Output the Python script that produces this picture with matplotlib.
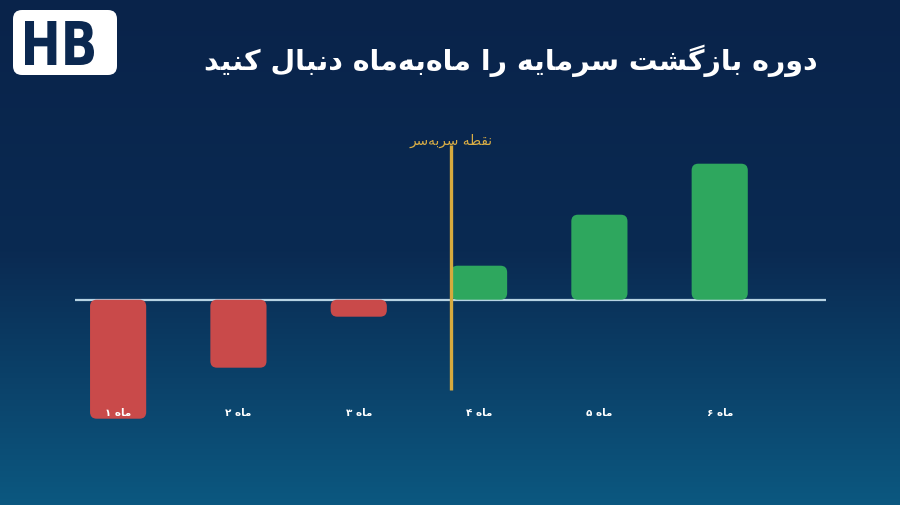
import numpy as np
import matplotlib
matplotlib.use("Agg")
import matplotlib.pyplot as plt
from matplotlib.patches import FancyBboxPatch, PathPatch
from matplotlib.textpath import TextPath
from matplotlib.font_manager import FontProperties
from matplotlib.colors import LinearSegmentedColormap
import matplotlib.transforms as mtransforms

# ---------------- data ----------------
months = ["ماه ۱", "ماه ۲", "ماه ۳", "ماه ۴", "ماه ۵", "ماه ۶"]
cumulative = [-35, -20, -5, 10, 25, 40]
breakeven_index = 3
title = "دوره بازگشت سرما\u06ccه را ماه\u200cبه\u200cماه دنبال \u06a9ن\u06ccد"
breakeven_label = "نقطه سربه\u200cسر"
logo_text = "HB"

# ---------------- minimal Arabic/Persian shaping ----------------
FORMS = {
    '\u0627': ('\uFE8D', '\uFE8E', None, None),
    '\u0628': ('\uFE8F', '\uFE90', '\uFE91', '\uFE92'),
    '\u062A': ('\uFE95', '\uFE96', '\uFE97', '\uFE98'),
    '\u062F': ('\uFEA9', '\uFEAA', None, None),
    '\u0631': ('\uFEAD', '\uFEAE', None, None),
    '\u0632': ('\uFEAF', '\uFEB0', None, None),
    '\u0633': ('\uFEB1', '\uFEB2', '\uFEB3', '\uFEB4'),
    '\u0634': ('\uFEB5', '\uFEB6', '\uFEB7', '\uFEB8'),
    '\u0637': ('\uFEC1', '\uFEC2', '\uFEC3', '\uFEC4'),
    '\u0642': ('\uFED5', '\uFED6', '\uFED7', '\uFED8'),
    '\u0643': ('\uFED9', '\uFEDA', '\uFEDB', '\uFEDC'),
    '\u0644': ('\uFEDD', '\uFEDE', '\uFEDF', '\uFEE0'),
    '\u0645': ('\uFEE1', '\uFEE2', '\uFEE3', '\uFEE4'),
    '\u0646': ('\uFEE5', '\uFEE6', '\uFEE7', '\uFEE8'),
    '\u0647': ('\uFEE9', '\uFEEA', '\uFEEB', '\uFEEC'),
    '\u0648': ('\uFEED', '\uFEEE', None, None),
    '\u064A': ('\uFEF1', '\uFEF2', '\uFEF3', '\uFEF4'),
    '\u06CC': ('\uFBFC', '\uFBFD', '\uFBFE', '\uFBFF'),
    '\u06A9': ('\uFB8E', '\uFB8F', '\uFB90', '\uFB91'),
    '\u06AF': ('\uFB92', '\uFB93', '\uFB94', '\uFB95'),
}


def shape(s):
    out = []
    n = len(s)
    for i, c in enumerate(s):
        if c == '\u200c':
            continue
        f = FORMS.get(c)
        if f is None:
            out.append(c)
            continue
        prev = s[i - 1] if i > 0 else None
        nxt = s[i + 1] if i < n - 1 else None
        jp = prev is not None and prev in FORMS and FORMS[prev][2] is not None
        jn = f[2] is not None and nxt is not None and nxt in FORMS
        if jp and jn:
            g = f[3]
        elif jp:
            g = f[1]
        elif jn:
            g = f[2]
        else:
            g = f[0]
        out.append(g)
    return ''.join(reversed(out))


plt.rcParams['font.family'] = ['DejaVu Sans']

W, H = 900, 506
fig = plt.figure(figsize=(9, 5.06), dpi=100)

# background gradient + decorations (pixel coordinates)
bg = fig.add_axes([0, 0, 1, 1])
bg.set_xlim(0, W)
bg.set_ylim(0, H)
bg.axis('off')
cmap = LinearSegmentedColormap.from_list('bg', ['#0c5880', '#0a2a52', '#09234a'])
grad = np.linspace(0, 1, 256).reshape(-1, 1)
bg.imshow(grad, extent=[0, W, 0, H], aspect='auto', cmap=cmap, origin='lower', zorder=0)

# logo
bg.add_patch(FancyBboxPatch((13, H - 76), 104, 65, boxstyle='round,pad=0,rounding_size=9',
                            fc='white', ec='none', zorder=2))
tp = TextPath((0, 0), logo_text, size=50, prop=FontProperties(family='DejaVu Sans', weight='bold'))
bb = tp.get_extents()
tr = mtransforms.Affine2D().translate(-bb.x0, -bb.y0).scale(69 / bb.width, 44 / bb.height).translate(25, H - 66)
bg.add_patch(PathPatch(tr.transform_path(tp), fc='#0b2850', ec='none', zorder=3))

# title
bg.text(818, H - 61, shape(title), ha='right', va='center', fontsize=20.5,
        fontweight='bold', color='white', zorder=3)

# chart axes
ax = fig.add_axes([75 / W, 75.3 / H, 751 / W, 290 / H])
ax.patch.set_alpha(0)
ax.set_xlim(-43 / 120, 5 + 106 / 120)
ax.set_ylim(-130 / 3.4, 160 / 3.4)
ax.axis('off')

ax.axhline(0, color='#b7d3e3', lw=1.6, zorder=1)

bw = 56 / 120
aspect = (1 / 3.4) / (1 / 120)
for i, v in enumerate(cumulative):
    col = '#c94a4a' if v < 0 else '#2ea75e'
    ax.add_patch(FancyBboxPatch((i - bw / 2, min(0, v)), bw, abs(v),
                                boxstyle='round,pad=0,rounding_size=0.055',
                                mutation_aspect=aspect, fc=col, ec='none', zorder=2))
    ax.text(i, -112 / 3.4, shape(months[i]), ha='center', va='center', fontsize=7.5,
            fontweight='bold', color='white', zorder=4)

bx = breakeven_index - bw / 2 + 0.004
ax.vlines(bx, -90 / 3.4, 155 / 3.4, color='#d6aa3e', lw=2.4, zorder=3)
ax.text(bx, 160 / 3.4, shape(breakeven_label), ha='center', va='center', fontsize=9.8,
        color='#d9ad45', zorder=4, clip_on=False)

fig.savefig('out.png', dpi=100)
